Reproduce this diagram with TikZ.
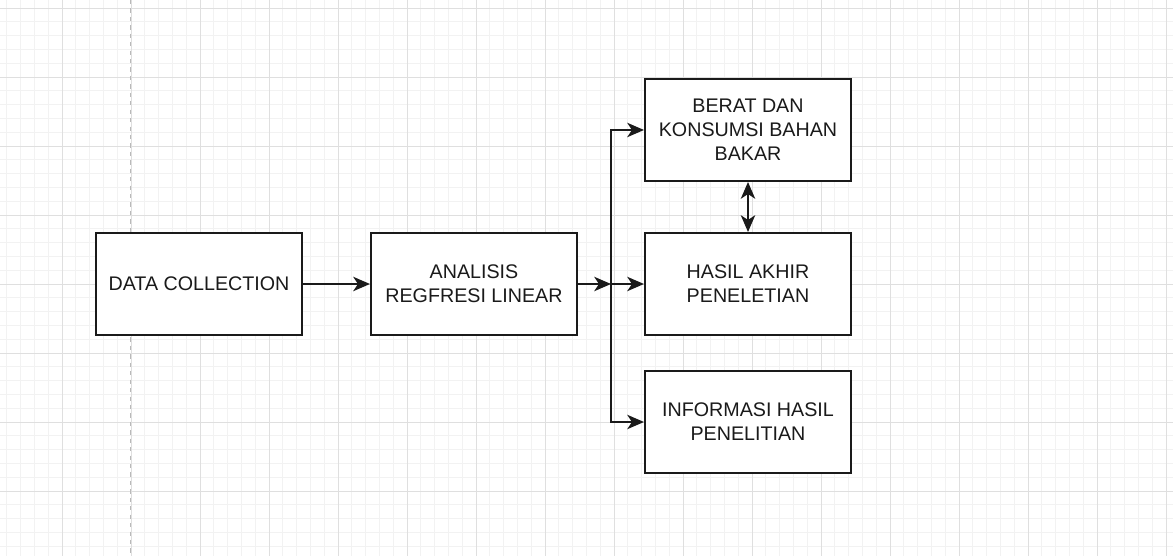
\documentclass[tikz,border=0pt]{standalone}
\usepackage{fontspec}
\setmainfont{Liberation Sans}
\usepackage{xcolor}
\usepackage{tikz}
\usetikzlibrary{arrows.meta, positioning, calc}
\definecolor{inkgray}{HTML}{1A1A1A}
\tikzset{
  block/.style={draw=inkgray, line width=1.4pt, fill=white, minimum width=5.15cm, minimum height=2.55cm, align=center, text=inkgray, font=\fontsize{14}{17}\selectfont},
  link/.style={-{Stealth[length=4.2mm, width=3.6mm, inset=1.2mm]}, line width=1.4pt, draw=inkgray},
  minorgrid/.style={draw=gray!10, line width=0.5pt},
  majorgrid/.style={draw=gray!25, line width=0.6pt}
}

\begin{document}
\begin{tikzpicture}[x=0.025cm, y=-0.025cm]
        \useasboundingbox (0,0) rectangle (1173,556);

        % Background grid
        \begin{scope}
            \clip (0,0) rectangle (1173,556);
            \fill[white] (0,0) rectangle (1173,556);
            \foreach \i in {0,...,86} {
                \draw[minorgrid] ({-7+\i*13.8},0) -- ({-7+\i*13.8},556);
            }
            \foreach \j in {0,...,41} {
                \draw[minorgrid] (0,{-5.8+\j*13.8}) -- (1173,{-5.8+\j*13.8});
            }
            \foreach \i in {0,...,17} {
                \draw[majorgrid] ({-7+\i*69},0) -- ({-7+\i*69},556);
            }
            \foreach \j in {0,...,8} {
                \draw[majorgrid] (0,{8+\j*69}) -- (1173,{8+\j*69});
            }
            \draw[gray!55, dashed, line width=0.7pt] (130,0) -- (130,556);
        \end{scope}

        % Blocks
        \node[block] (data)    at (199,284) {DATA COLLECTION};
        \node[block] (regresi) at (474,284) {ANALISIS\\REGFRESI LINEAR};
        \node[block] (berat)   at (748,130) {BERAT DAN\\KONSUMSI BAHAN\\BAKAR};
        \node[block] (hasil)   at (748,284) {HASIL AKHIR\\PENELETIAN};
        \node[block] (info)    at (748,422) {INFORMASI HASIL\\PENELITIAN};

        % Links
        \coordinate (split) at (611,284);
        \draw[link] (data.east) -- (regresi.west);
        \draw[link] (regresi.east) -- (split);
        \draw[link] (split) |- (berat.west);
        \draw[link] (split) -- (hasil.west);
        \draw[link] (split) |- (info.west);
        \draw[link, {Stealth[length=4.2mm, width=3.6mm, inset=1.2mm]}-{Stealth[length=4.2mm, width=3.6mm, inset=1.2mm]}] (berat.south) -- (hasil.north);
    \end{tikzpicture}
\end{document}
